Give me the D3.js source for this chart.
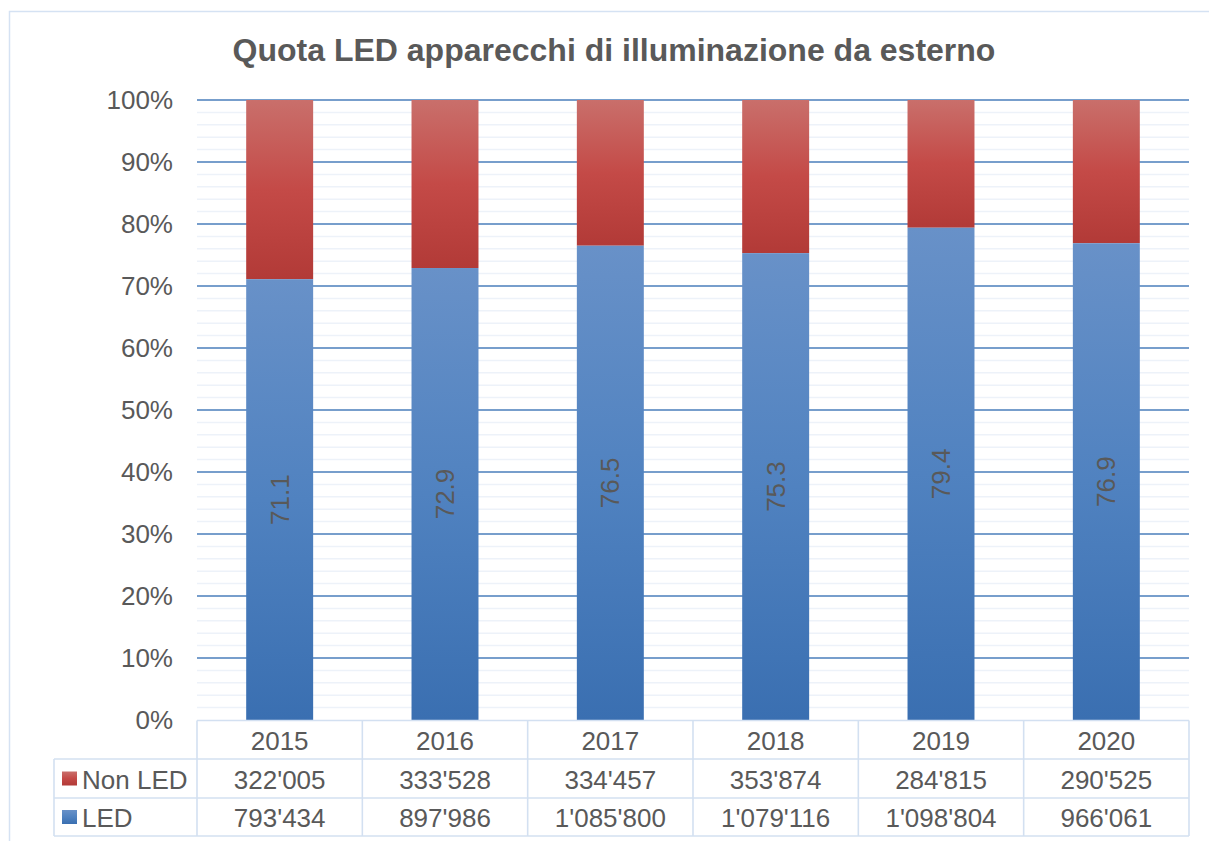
<!DOCTYPE html>
<html>
<head>
<meta charset="utf-8">
<script src="https://cdn.jsdelivr.net/npm/d3@7"></script>
<style>
  html, body { margin: 0; padding: 0; background: #fff; }
  svg { display: block; font-family: "Liberation Sans", Arial, sans-serif; }
</style>
</head>
<body>
<svg id="chart" width="1209" height="841"></svg>
<script>
// chart data
const years = ['2015', '2016', '2017', '2018', '2019', '2020'];
const ledShare = [71.1, 72.9, 76.5, 75.3, 79.4, 76.9];        // % LED (data labels)
const nonLedCount = ["322'005", "333'528", "334'457", "353'874", "284'815", "290'525"];
const ledCount = ["793'434", "897'986", "1'085'800", "1'079'116", "1'098'804", "966'061"];
const yTicks = [0, 10, 20, 30, 40, 50, 60, 70, 80, 90, 100];

const W = 1209, H = 841;
const plot = { left: 197, right: 1189, top: 100, bottom: 720 };
const rowH = [38.5, 39, 38];   // header, Non LED, LED
const tableLeft = 54;
const textCol = '#595959';
const gridCol = '#4a7ebb';
const tableCol = '#d3e0f1';
const fs = 26;

const svg = d3.select('#chart');
const defs = svg.append('defs');

function grad(id, stops) {
  const g = defs.append('linearGradient').attr('id', id)
    .attr('x1', 0).attr('y1', 0).attr('x2', 0).attr('y2', 1);
  stops.forEach(([o, c]) => g.append('stop').attr('offset', o).attr('stop-color', c));
}
grad('gRed', [[0, '#c96f6b'], [0.5, '#c44a47'], [1, '#b23a37']]);
grad('gBlue', [[0, '#6891c8'], [0.5, '#5082c0'], [1, '#3a6fb1']]);

// outer frame (runs off the right/bottom edges like the source)
svg.append('rect').attr('x', 9.5).attr('y', 11.5).attr('width', 1240).attr('height', 860)
  .attr('fill', 'none').attr('stroke', '#d5e2f3').attr('stroke-width', 1.5);

// title
svg.append('text').attr('x', 614).attr('y', 61).attr('text-anchor', 'middle')
  .attr('font-size', 32).attr('font-weight', 'bold').attr('fill', textCol)
  .text('Quota LED apparecchi di illuminazione da esterno');

const x = d3.scaleBand().domain(years).range([plot.left, plot.right]).padding(0);
const y = d3.scaleLinear().domain([0, 100]).range([plot.bottom, plot.top]);
const barW = x.bandwidth() * 0.405;

// minor gridlines every 2%
const minor = d3.range(2, 100, 2).filter(v => v % 10 !== 0);
svg.append('g').selectAll('line').data(minor).join('line')
  .attr('x1', plot.left).attr('x2', plot.right)
  .attr('y1', d => y(d)).attr('y2', d => y(d))
  .attr('stroke', '#edf2f9').attr('stroke-width', 1.5);

// major gridlines
svg.append('g').selectAll('line').data(yTicks.filter(v => v > 0)).join('line')
  .attr('x1', plot.left).attr('x2', plot.right)
  .attr('y1', d => y(d)).attr('y2', d => y(d))
  .attr('stroke', gridCol).attr('stroke-width', 1.6);

// y-axis labels
const yAxis = d3.axisLeft(y).tickValues(yTicks).tickFormat(d => d + '%').tickSize(0).tickPadding(0);
const ya = svg.append('g').attr('transform', 'translate(173,0)').call(yAxis);
ya.select('.domain').remove();
ya.selectAll('text').attr('font-size', fs).attr('fill', textCol)
  .attr('font-family', '"Liberation Sans", Arial, sans-serif');

// stacked bars
const bars = svg.append('g');
years.forEach((yr, i) => {
  const cx = x(yr) + x.bandwidth() / 2;
  const led = ledShare[i];
  bars.append('rect').attr('x', cx - barW / 2).attr('width', barW)
    .attr('y', y(100)).attr('height', y(led) - y(100)).attr('fill', 'url(#gRed)');
  bars.append('rect').attr('x', cx - barW / 2).attr('width', barW)
    .attr('y', y(led)).attr('height', y(0) - y(led)).attr('fill', 'url(#gBlue)');
  const my = (y(0) + y(led)) / 2;
  bars.append('text').attr('transform', `translate(${cx + 9},${my}) rotate(-90)`)
    .attr('text-anchor', 'middle').attr('font-size', fs).attr('fill', textCol)
    .text(led.toFixed(1));
});

// data table
const t = svg.append('g');
const r0 = plot.bottom + 0.5, r1 = r0 + rowH[0], r2 = r1 + rowH[1], r3 = r2 + rowH[2];
const hl = (x1, x2, yy) => t.append('line').attr('x1', x1).attr('x2', x2).attr('y1', yy).attr('y2', yy)
  .attr('stroke', tableCol).attr('stroke-width', 1.6);
const vl = (xx, y1, y2) => t.append('line').attr('x1', xx).attr('x2', xx).attr('y1', y1).attr('y2', y2)
  .attr('stroke', tableCol).attr('stroke-width', 1.6);
hl(plot.left, plot.right, r0);
hl(tableLeft, plot.right, r1);
hl(tableLeft, plot.right, r2);
hl(tableLeft, plot.right, r3);
vl(tableLeft, r1, r3);
years.forEach(yr => vl(x(yr), r0, r3));
vl(plot.right, r0, r3);

const cellText = (tx, ty, s, anchor) => t.append('text').attr('x', tx).attr('y', ty)
  .attr('text-anchor', anchor || 'middle').attr('dominant-baseline', 'central')
  .attr('font-size', fs).attr('fill', textCol).text(s);

years.forEach((yr, i) => {
  const cx = x(yr) + x.bandwidth() / 2;
  cellText(cx, (r0 + r1) / 2 + 1, yr);
  cellText(cx, (r1 + r2) / 2 + 1, nonLedCount[i]);
  cellText(cx, (r2 + r3) / 2 + 1, ledCount[i]);
});

// legend keys in the table
const series = [
  { name: 'Non LED', fill: 'url(#gRed)', top: r1, bot: r2 },
  { name: 'LED', fill: 'url(#gBlue)', top: r2, bot: r3 }
];
series.forEach(s => {
  const my = (s.top + s.bot) / 2;
  t.append('rect').attr('x', 62).attr('y', my - 7).attr('width', 15).attr('height', 14).attr('fill', s.fill);
  cellText(82, my + 1, s.name, 'start');
});
</script>
</body>
</html>
